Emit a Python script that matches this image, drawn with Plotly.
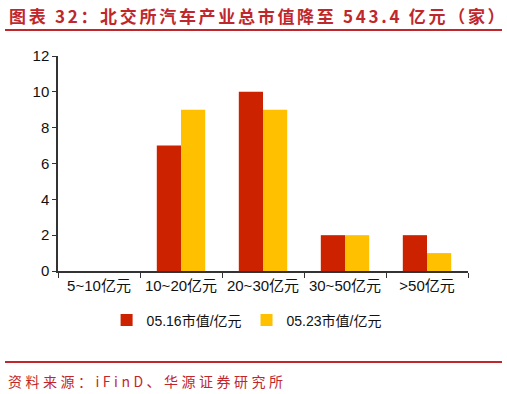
import plotly.graph_objects as go

categories = ["5~10亿元", "10~20亿元", "20~30亿元", "30~50亿元", ">50亿元"]
s1_name = "05.16市值/亿元"
s2_name = "05.23市值/亿元"
s1_values = [0, 7, 10, 2, 2]
s2_values = [0, 9, 9, 2, 1]
y_ticks = [0, 2, 4, 6, 8, 10, 12]

W, H = 507, 394
L, R, T, B = 58, 39, 56, 123

fig = go.Figure()
fig.add_bar(x=categories, y=s1_values, name=s1_name, marker_color="#CC2200", marker_line_width=0)
fig.add_bar(x=categories, y=s2_values, name=s2_name, marker_color="#FFC000", marker_line_width=0)

font_main = "Liberation Sans, Arial, Noto Sans CJK SC, sans-serif"
fig.update_layout(
    width=W, height=H,
    margin=dict(l=L, r=R, t=T, b=B),
    paper_bgcolor="white", plot_bgcolor="white",
    barmode="group", bargap=0.41, bargroupgap=0,
    font=dict(family=font_main, size=15, color="#111111"),
    showlegend=True,
    legend=dict(orientation="h", x=0.46, xanchor="center", y=-0.23, yanchor="middle",
                font=dict(size=14, color="#111111"), itemwidth=30, traceorder="normal",
                itemsizing="constant"),
    xaxis=dict(showline=True, linecolor="#333333", linewidth=1.5, ticks="outside",
               tickson="boundaries", ticklen=5, tickcolor="#333333", showgrid=False,
               tickfont=dict(size=15, color="#111111")),
    yaxis=dict(range=[0, 12], tickvals=y_ticks, showline=True, linecolor="#333333",
               linewidth=1.5, ticks="outside", ticklen=4, tickcolor="#333333",
               showgrid=False, zeroline=False, tickfont=dict(size=15, color="#111111")),
)

pw, ph = W - L - R, H - T - B
def px_x(px):
    return (px - L) / pw
def px_y(py):
    return 1 - (py - T) / ph

title_color = "#C0272D"
fig.add_annotation(xref="paper", yref="paper", x=px_x(7), y=px_y(15),
                   xanchor="left", yanchor="middle",
                   text="<span style='letter-spacing:2.7px'><b>图表 32：北交所汽车产业总市值降至 543.4 亿元（家）</b></span>",
                   showarrow=False,
                   font=dict(family="Noto Sans CJK SC, sans-serif", size=17, color=title_color))
fig.add_annotation(xref="paper", yref="paper", x=px_x(6), y=px_y(381),
                   xanchor="left", yanchor="middle",
                   text="<span style='letter-spacing:3.5px'>资料来源：iFinD、华源证券研究所</span>",
                   showarrow=False,
                   font=dict(family="Noto Sans CJK SC, sans-serif", size=14, color=title_color))

fig.add_shape(type="line", xref="paper", yref="paper", x0=px_x(5), x1=px_x(502),
              y0=px_y(30), y1=px_y(30), line=dict(color=title_color, width=2))
fig.add_shape(type="line", xref="paper", yref="paper", x0=px_x(5), x1=px_x(502),
              y0=px_y(362), y1=px_y(362), line=dict(color=title_color, width=2))

fig.write_html("out.html")
